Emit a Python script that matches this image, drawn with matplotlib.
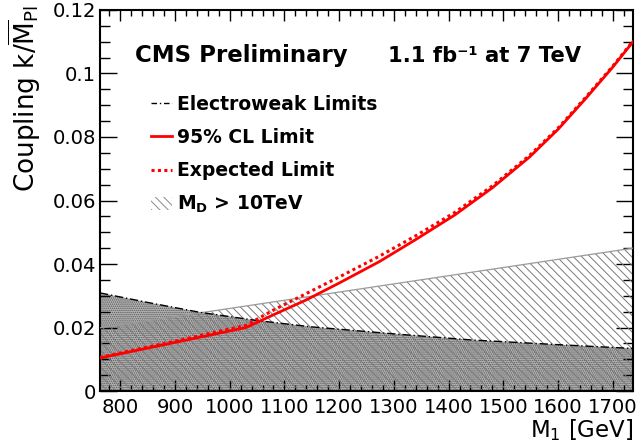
import matplotlib
matplotlib.use("Agg")
import matplotlib.pyplot as plt
from matplotlib.lines import Line2D
from matplotlib.patches import Patch
from matplotlib.ticker import MultipleLocator, FixedLocator, FuncFormatter

# the reference text is wide, DejaVu Sans matches its proportions best
plt.rcParams['font.family'] = ['DejaVu Sans']
plt.rcParams['mathtext.fontset'] = 'dejavusans'
plt.rcParams['hatch.linewidth'] = 0.7

# data
x_min, x_max = 763, 1737

ew_mass = [763, 850, 945, 1050, 1150, 1300, 1440, 1600, 1737]
ew_limit = [0.0309, 0.0279, 0.0248, 0.0222, 0.0202, 0.0180, 0.0161, 0.0146, 0.0134]

md_mass = [763, 1737]
md_limit = [0.0199, 0.0450]

obs_mass = [763, 900, 1030, 1080, 1140, 1200, 1274, 1340, 1411, 1480, 1548, 1600, 1650, 1700, 1737]
obs_limit = [0.0104, 0.0153, 0.0200, 0.0240, 0.0287, 0.0340, 0.0408, 0.0477, 0.0554,
             0.0640, 0.0737, 0.0824, 0.0920, 0.1020, 0.1100]

exp_mass = [763, 900, 1030, 1080, 1140, 1200, 1274, 1340, 1411, 1480, 1548, 1600, 1650, 1700, 1737]
exp_limit = [0.0106, 0.0157, 0.0207, 0.0255, 0.0307, 0.0359, 0.0425, 0.0489, 0.0562,
             0.0646, 0.0742, 0.0828, 0.0924, 0.1023, 0.1102]

x_ticks = [800, 900, 1000, 1100, 1200, 1300, 1400, 1500, 1600, 1700]
y_ticks = [0, 0.02, 0.04, 0.06, 0.08, 0.1, 0.12]

legend_labels = ["Electroweak Limits", "95% CL Limit", "Expected Limit",
                 r"M$_{\mathbf{D}}$ > 10TeV"]

fig = plt.figure(figsize=(6.41, 4.48), dpi=100)
ax = fig.add_axes([0.156, 0.1272, 0.8315, 0.8505])

# electroweak excluded region (dotted grey)
ax.fill_between(ew_mass, 0, ew_limit, facecolor='#b4b4b4', edgecolor='#5a5a5a',
                hatch='........', linewidth=0, zorder=1)
# M_D > 10 TeV hatched region
ax.fill_between(md_mass, 0, md_limit, facecolor='none', edgecolor='#7a7a7a',
                hatch='\\\\\\\\', linewidth=0, zorder=2)
ax.plot(md_mass, md_limit, color='#9a9a9a', lw=0.9, zorder=3)
ax.plot(ew_mass, ew_limit, color='black', lw=1.0, ls=(0, (6, 2, 1, 2)), zorder=3)

ax.plot(obs_mass, obs_limit, color='#ff0000', lw=2.0, zorder=4)
ax.plot(exp_mass, exp_limit, color='#ff0000', lw=2.2, ls=(0, (1, 1.1)),
        dash_capstyle='butt', zorder=4)

ax.set_xlim(x_min, x_max)
ax.set_ylim(0, 0.12)
ax.xaxis.set_major_locator(FixedLocator(x_ticks))
ax.xaxis.set_minor_locator(MultipleLocator(20))
ax.yaxis.set_major_locator(FixedLocator(y_ticks))
ax.yaxis.set_minor_locator(MultipleLocator(0.005))
ax.yaxis.set_major_formatter(FuncFormatter(lambda v, p: f"{v:g}"))

ax.tick_params(which='both', direction='in', top=True, right=True, width=1, labelsize=14.1)
ax.tick_params(axis='x', which='major', length=8, pad=5)
ax.tick_params(axis='x', which='minor', length=4.5)
ax.tick_params(axis='y', which='major', length=12, pad=3)
ax.tick_params(axis='y', which='minor', length=7)
for s in ax.spines.values():
    s.set_linewidth(1.5)

ax.set_xlabel(r"M$_{1}$ [GeV]", fontsize=16.5, loc='right')
ax.xaxis.set_label_coords(1.0, -0.068)
ax.set_ylabel(r"Coupling k/$\overline{\mathrm{M}}_{\mathrm{Pl}}$", fontsize=18.9, loc='top')
ax.yaxis.set_label_coords(-0.106, 1.013)

fig.text(135 / 641, 1 - 62 / 448, "CMS Preliminary", fontsize=16.5, fontweight='bold',
         ha='left', va='baseline')
fig.text(388 / 641, 1 - 62 / 448, "1.1 fb\u207b\u00b9 at 7 TeV", fontsize=15.2,
         fontweight='bold', ha='left', va='baseline')

handles = [
    Line2D([], [], color='black', lw=1.0, ls=(0, (4, 2, 1, 2))),
    Line2D([], [], color='#ff0000', lw=2.0),
    Line2D([], [], color='#ff0000', lw=2.2, ls=(0, (1, 1.1)), dash_capstyle='butt'),
    Patch(facecolor='white', edgecolor='#8a8a8a', hatch='\\\\\\\\', lw=0),
]
leg = ax.legend(handles, legend_labels, loc='upper left', bbox_to_anchor=(151 / 641, 1 - 95 / 448),
                bbox_transform=fig.transFigure, frameon=False, borderpad=0, borderaxespad=0,
                handlelength=1.12, handletextpad=0.28, labelspacing=0.75,
                prop={'size': 13.5, 'weight': 'bold'})

fig.savefig("out.png", dpi=100)
